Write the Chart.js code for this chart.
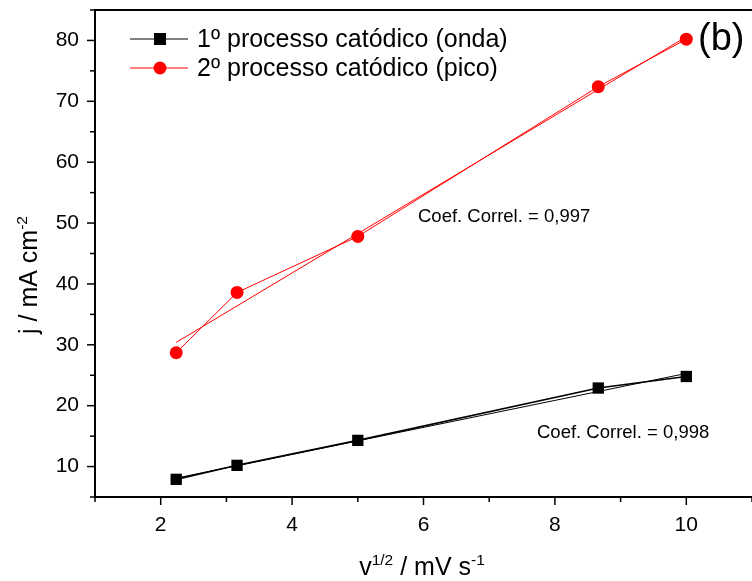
<!DOCTYPE html>
<html>
<head>
<meta charset="utf-8">
<script src="https://cdn.jsdelivr.net/npm/chart.js@4.4.1/dist/chart.umd.min.js"></script>
<style>
  html, body { margin: 0; padding: 0; background: #fff; overflow: hidden; }
  #wrap { width: 760px; height: 581px; }
</style>
</head>
<body>
<div id="wrap"><canvas id="plot"></canvas></div>
<script>
// v^1/2 (mV s^-1)^1/2 and current densities
const sqrtRate = [2.236, 3.162, 5.0, 8.660, 10.0];
const onda = [7.9, 10.2, 14.3, 22.9, 24.8];
const pico = [28.7, 38.6, 47.8, 72.4, 80.2];

// end points of the linear fits
const fitX = [2.236, 10.0];
const ondaFit = [8.1, 25.3];
const picoFit = [30.4, 80.6];

const xTicks = [2, 4, 6, 8, 10];
const yTicks = [10, 20, 30, 40, 50, 60, 70, 80];

const seriesNames = ['1º processo catódico (onda)', '2º processo catódico (pico)'];
const corrLabels = ['Coef. Correl. = 0,998', 'Coef. Correl. = 0,997'];

const FONT = '"Liberation Sans", Arial, sans-serif';

function pts(xs, ys) {
    return xs.map((x, i) => ({ x: x, y: ys[i] }));
}

// text with a superscript part: [[text, isSup], ...]
function drawRich(ctx, parts, size, x, y, align) {
    ctx.font = size + 'px ' + FONT;
    let total = 0;
    parts.forEach(p => {
        ctx.font = (p[1] ? size * 0.62 : size) + 'px ' + FONT;
        total += ctx.measureText(p[0]).width;
    });
    let cx = align === 'center' ? x - total / 2 : x;
    ctx.textAlign = 'left';
    ctx.textBaseline = 'alphabetic';
    parts.forEach(p => {
        const s = p[1] ? size * 0.62 : size;
        ctx.font = s + 'px ' + FONT;
        ctx.fillText(p[0], cx, p[1] ? y - size * 0.42 : y);
        cx += ctx.measureText(p[0]).width;
    });
}

// scales should not reserve room for half-labels at their ends
function noEndPadding(scale) {
    scale.paddingTop = 0;
    scale.paddingBottom = 0;
    scale.paddingLeft = 0;
    scale.paddingRight = 0;
}

const decorations = {
    id: 'decorations',
    afterDraw(chart) {
        const ctx = chart.ctx;
        const area = chart.chartArea;
        const xs = chart.scales.x;
        const ys = chart.scales.y;
        ctx.save();
        ctx.strokeStyle = '#000';
        ctx.fillStyle = '#000';

        // top frame line
        ctx.lineWidth = 2;
        ctx.beginPath();
        ctx.moveTo(area.left, area.top);
        ctx.lineTo(area.right + 10, area.top);
        ctx.stroke();

        // tick marks (outward, minor ones shorter)
        ctx.lineWidth = 1.5;
        for (let v = 1; v <= 11; v++) {
            const px = xs.getPixelForValue(v);
            const len = v % 2 === 0 ? 8 : 5;
            ctx.beginPath();
            ctx.moveTo(px, area.bottom);
            ctx.lineTo(px, area.bottom + len);
            ctx.stroke();
        }
        for (let v = 5; v <= 85; v += 5) {
            const py = ys.getPixelForValue(v);
            const len = v % 10 === 0 ? 8 : 5;
            ctx.beginPath();
            ctx.moveTo(area.left, py);
            ctx.lineTo(area.left - len, py);
            ctx.stroke();
        }

        // axis titles
        drawRich(ctx, [['v', false], ['1/2', true], [' / mV s', false], ['-1', true]], 25, 422, 575, 'center');
        ctx.save();
        ctx.translate(37, 275);
        ctx.rotate(-Math.PI / 2);
        drawRich(ctx, [['j / mA cm', false], ['-2', true]], 25, 0, 0, 'center');
        ctx.restore();

        // legend
        const legend = [
            { color: '#000', style: 'rect', y: 39, width: 1.2 },
            { color: '#ff0000', style: 'circle', y: 68, width: 1 }
        ];
        legend.forEach((item, i) => {
            ctx.strokeStyle = item.color;
            ctx.fillStyle = item.color;
            ctx.lineWidth = item.width;
            ctx.beginPath();
            ctx.moveTo(130, item.y);
            ctx.lineTo(188, item.y);
            ctx.stroke();
            if (item.style === 'rect') {
                ctx.fillRect(154, item.y - 6, 12, 12);
            } else {
                ctx.beginPath();
                ctx.arc(160, item.y, 6.5, 0, Math.PI * 2);
                ctx.fill();
            }
            ctx.fillStyle = '#000';
            ctx.font = '25px ' + FONT;
            ctx.textAlign = 'left';
            ctx.textBaseline = 'middle';
            ctx.fillText(seriesNames[i], 197, item.y + 1);
        });

        // panel letter
        ctx.font = '38px ' + FONT;
        ctx.textAlign = 'left';
        ctx.textBaseline = 'middle';
        ctx.fillText('(b)', 698, 40);

        // correlation coefficients
        ctx.font = '18.5px ' + FONT;
        ctx.fillText(corrLabels[0], 537, 433);
        ctx.fillText(corrLabels[1], 418, 217);

        ctx.restore();
    }
};

new Chart(document.getElementById('plot'), {
    type: 'scatter',
    data: {
        datasets: [
            {
                data: pts(fitX, ondaFit),
                showLine: true,
                borderColor: '#000',
                borderWidth: 1,
                pointRadius: 0
            },
            {
                data: pts(fitX, picoFit),
                showLine: true,
                borderColor: '#ff0000',
                borderWidth: 1,
                pointRadius: 0
            },
            {
                data: pts(sqrtRate, onda),
                showLine: true,
                borderColor: '#000',
                backgroundColor: '#000',
                borderWidth: 1.6,
                pointStyle: 'rect',
                pointRadius: 8,
                pointBorderWidth: 0
            },
            {
                data: pts(sqrtRate, pico),
                showLine: true,
                borderColor: '#ff0000',
                backgroundColor: '#ff0000',
                borderWidth: 1,
                pointStyle: 'circle',
                pointRadius: 6.5,
                pointBorderWidth: 0
            }
        ]
    },
    options: {
        responsive: true,
        maintainAspectRatio: false,
        animation: false,
        layout: { padding: { left: 0, top: 10, right: 7, bottom: 0 } },
        plugins: {
            legend: { display: false },
            tooltip: { enabled: false }
        },
        scales: {
            x: {
                type: 'linear',
                min: 1,
                max: 11,
                afterFit(scale) { scale.height = 84; noEndPadding(scale); },
                afterBuildTicks(scale) {
                    scale.ticks = xTicks.map(v => ({ value: v }));
                },
                grid: { display: false, drawTicks: false },
                border: { display: true, color: '#000', width: 2 },
                ticks: {
                    color: '#000',
                    padding: 16,
                    font: { family: FONT, size: 21 }
                }
            },
            y: {
                type: 'linear',
                min: 5,
                max: 85,
                afterFit(scale) { scale.width = 95; noEndPadding(scale); },
                afterBuildTicks(scale) {
                    scale.ticks = yTicks.map(v => ({ value: v }));
                },
                grid: { display: false, drawTicks: false },
                border: { display: true, color: '#000', width: 2 },
                ticks: {
                    color: '#000',
                    padding: 16,
                    font: { family: FONT, size: 21 }
                }
            }
        }
    },
    plugins: [decorations]
});
</script>
</body>
</html>
